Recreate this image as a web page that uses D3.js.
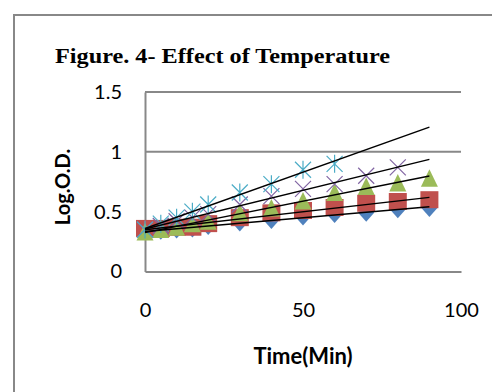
<!DOCTYPE html>
<html>
<head>
<meta charset="utf-8">
<script src="https://cdn.jsdelivr.net/npm/d3@7"></script>
<style>
  body { margin: 0; background: #fff; }
  svg { display: block; }
</style>
</head>
<body>
<div id="chart"></div>
<script>
// temps de mesure (min)
const times = [0, 5, 10, 15, 20, 30, 40, 50, 60, 70, 80, 90];

// Log O.D. pour chaque serie
const serie1 = [0.34, 0.34, 0.35, 0.36, 0.38, 0.41, 0.43, 0.46, 0.48, 0.49, 0.52, 0.53];
const serie2 = [0.36, 0.36, 0.37, 0.37, 0.40, 0.45, 0.49, 0.51, 0.535, 0.57, 0.585, 0.60];
const serie3 = [0.33, 0.35, 0.37, 0.40, 0.42, 0.49, 0.53, 0.59, 0.66, 0.71, 0.74, 0.78];
const serie4 = [0.35, 0.38, 0.42, 0.45, 0.48, 0.56, 0.63, 0.69, 0.73, 0.80, 0.87];
const serie5 = [0.35, 0.40, 0.45, 0.50, 0.56, 0.66, 0.73, 0.85, 0.90];

const yTicks = [0, 0.5, 1, 1.5];
const xTicks = [0, 50, 100];
const gridValues = [1, 1.5];

const width = 492;
const height = 392;

const svg = d3.select('#chart')
  .append('svg')
  .attr('width', width)
  .attr('height', height);

// cadre (seulement haut et gauche visibles)
svg.append('path')
  .attr('d', 'M14,' + height + 'V15H' + width)
  .attr('fill', 'none')
  .attr('stroke', '#888')
  .attr('stroke-width', 2);

// titre
svg.append('text')
  .attr('x', 55)
  .attr('y', 63)
  .attr('textLength', 335)
  .attr('lengthAdjust', 'spacingAndGlyphs')
  .style('font-family', '"Liberation Serif", "Times New Roman", serif')
  .style('font-weight', 'bold')
  .style('font-size', '20px')
  .style('fill', '#000')
  .text('Figure. 4- Effect of Temperature');

const x = d3.scaleLinear().domain([0, 100]).range([145, 461]);
const y = d3.scaleLinear().domain([0, 1.5]).range([271.5, 92]);

// lignes de grille
svg.selectAll('.grid')
  .data(gridValues)
  .enter()
  .append('line')
  .attr('class', 'grid')
  .attr('x1', x(0))
  .attr('x2', x(100))
  .attr('y1', d => y(d))
  .attr('y2', d => y(d))
  .attr('stroke', '#888')
  .attr('stroke-width', 2);

// axes
const yAxis = svg.append('g')
  .attr('transform', `translate(${x(0)},0)`)
  .call(d3.axisLeft(y).tickValues(yTicks).tickSize(0).tickPadding(23).tickFormat(d => String(d)));

const xAxis = svg.append('g')
  .attr('transform', `translate(0,${y(0)})`)
  .call(d3.axisBottom(x).tickValues(xTicks).tickSize(0).tickPadding(31).tickFormat(d => String(d)));

[yAxis, xAxis].forEach(ax => {
  ax.select('.domain').attr('stroke', '#888').attr('stroke-width', 2);
  ax.selectAll('text')
    .style('font-family', 'Lato, "Open Sans", sans-serif')
    .style('font-size', '20px')
    .style('fill', '#000');
});

// titres des axes
svg.append('text')
  .attr('x', x(50))
  .attr('y', 364)
  .attr('text-anchor', 'middle')
  .style('font-family', 'Lato, "Open Sans", sans-serif')
  .style('font-weight', 'bold')
  .style('font-size', '22px')
  .text('Time(Min)');

svg.append('text')
  .attr('transform', 'translate(70,187) rotate(-90)')
  .attr('text-anchor', 'middle')
  .style('font-family', 'Lato, "Open Sans", sans-serif')
  .style('font-weight', 'bold')
  .style('font-size', '20px')
  .text('Log.O.D.');

// formes des marqueurs
const diamond = 'M0,-9L8,0L0,9L-8,0Z';
const square = 'M-9,-8.5H9V8.5H-9Z';
const triangle = 'M0,-9L8.5,8.5L-8.5,8.5Z';
const cross = 'M-8,-8L8,8M-8,8L8,-8';
const star = 'M-8,-8L8,8M-8,8L8,-8M0,-9V9';

const series = [
  { values: serie1, shape: diamond, color: '#4F81BD', filled: true },
  { values: serie2, shape: square, color: '#C0504D', filled: true },
  { values: serie3, shape: triangle, color: '#9BBB59', filled: true },
  { values: serie4, shape: cross, color: '#8064A2', filled: false },
  { values: serie5, shape: star, color: '#4BACC6', filled: false },
];

series.forEach(s => {
  const pts = s.values.map((v, i) => ({ t: times[i], v: v }));
  svg.append('g')
    .selectAll('path')
    .data(pts)
    .enter()
    .append('path')
    .attr('transform', d => `translate(${x(d.t)},${y(d.v)})`)
    .attr('d', s.shape)
    .attr('fill', s.filled ? s.color : 'none')
    .attr('stroke', s.color)
    .attr('stroke-width', s.filled ? 0 : 1.2);
});

// courbes de tendance lineaires (moindres carres)
series.forEach(s => {
  const ts = times.slice(0, s.values.length);
  const mt = d3.mean(ts);
  const mv = d3.mean(s.values);
  let num = 0;
  let den = 0;
  ts.forEach((t, i) => {
    num += (t - mt) * (s.values[i] - mv);
    den += (t - mt) * (t - mt);
  });
  const slope = num / den;
  const b = mv - slope * mt;
  svg.append('line')
    .attr('x1', x(0))
    .attr('y1', y(b))
    .attr('x2', x(90))
    .attr('y2', y(b + slope * 90))
    .attr('stroke', '#000')
    .attr('stroke-width', 1.4);
});
</script>
</body>
</html>
